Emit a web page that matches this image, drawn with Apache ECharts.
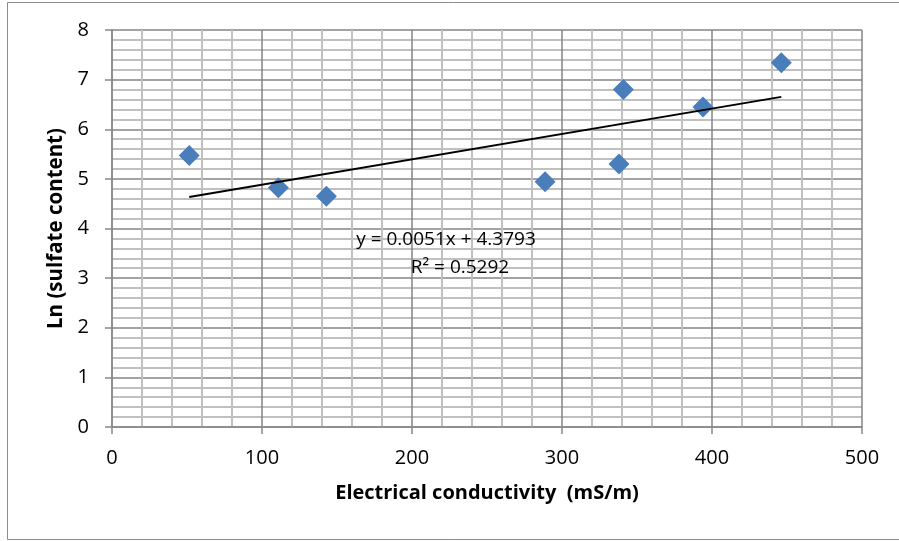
<!DOCTYPE html>
<html>
<head>
<meta charset="utf-8">
<script src="https://cdn.jsdelivr.net/npm/echarts@6/dist/echarts.min.js"></script>
<style>
html,body{margin:0;padding:0;background:#fff;}
#chart{width:899px;height:541px;}
</style>
</head>
<body>
<div id="chart"></div>
<script>
// Data
const conductivity = [51.5, 110.9, 142.9, 288.7, 338, 340.9, 394, 446.2];
const lnSulfate = [5.47, 4.82, 4.65, 4.94, 5.30, 6.80, 6.45, 7.34];
const equationLines = ['y = 0.0051x + 4.3793', 'R\u00B2 = 0.5292'];
const xAxisTitle = 'Electrical conductivity  (mS/m)';
const yAxisTitle = 'Ln (sulfate content)';

// least-squares trend line from the data
const n = conductivity.length;
const mx = conductivity.reduce((a, b) => a + b, 0) / n;
const my = lnSulfate.reduce((a, b) => a + b, 0) / n;
let sxy = 0, sxx = 0;
for (let i = 0; i < n; i++) {
  sxy += (conductivity[i] - mx) * (lnSulfate[i] - my);
  sxx += (conductivity[i] - mx) * (conductivity[i] - mx);
}
const slope = sxy / sxx;
const intercept = my - slope * mx;
const xMin = Math.min.apply(null, conductivity);
const xMax = Math.max.apply(null, conductivity);
const trend = [[xMin, intercept + slope * xMin], [xMax, intercept + slope * xMax]];

const FONT = 'Open Sans';
const chart = echarts.init(document.getElementById('chart'), null, {renderer: 'canvas'});
chart.setOption({
  animation: false,
  backgroundColor: '#fff',
  grid: {left: 112, top: 30, right: 37, bottom: 114, containLabel: false},
  xAxis: {
    type: 'value', min: 0, max: 500, interval: 100,
    name: xAxisTitle, nameLocation: 'middle', nameGap: 56,
    nameTextStyle: {fontFamily: FONT, fontWeight: 'bold', fontSize: 20, color: '#000'},
    axisLine: {show: true, lineStyle: {color: '#888', width: 1.5}},
    axisTick: {show: true, length: 7, lineStyle: {color: '#888', width: 1.5}},
    axisLabel: {fontFamily: FONT, fontSize: 20, color: '#000', margin: 21},
    splitLine: {show: true, lineStyle: {color: '#858585', width: 1.5}},
    minorTick: {show: false, splitNumber: 5},
    minorSplitLine: {show: true, lineStyle: {color: '#c0c0c0', width: 2}}
  },
  yAxis: {
    type: 'value', min: 0, max: 8, interval: 1,
    name: yAxisTitle, nameLocation: 'middle', nameGap: 44, nameRotate: 90,
    nameTextStyle: {fontFamily: FONT, fontWeight: 'bold', fontSize: 20.5, color: '#000'},
    axisLine: {show: true, lineStyle: {color: '#888', width: 1.5}},
    axisTick: {show: true, length: 7, lineStyle: {color: '#888', width: 1.5}},
    axisLabel: {fontFamily: FONT, fontSize: 20, color: '#000', margin: 23},
    splitLine: {show: true, lineStyle: {color: '#858585', width: 1.5}},
    minorTick: {show: false, splitNumber: 5},
    minorSplitLine: {show: true, lineStyle: {color: '#c0c0c0', width: 2}}
  },
  graphic: [
    {type: 'rect', silent: true, z: -10,
     shape: {x: 7.5, y: 2.5, width: 900, height: 537},
     style: {fill: 'none', stroke: '#8c8c8c', lineWidth: 1}},
    {type: 'text', silent: true, z: 10,
     style: {x: 446, y: 240, text: equationLines[0], textAlign: 'center', textVerticalAlign: 'middle',
             font: '19px "Open Sans"', fill: '#000'}},
    {type: 'text', silent: true, z: 10,
     style: {x: 460, y: 268, text: equationLines[1], textAlign: 'center', textVerticalAlign: 'middle',
             font: '19px "Open Sans"', fill: '#000'}}
  ],
  series: [
    {type: 'scatter', symbol: 'diamond', symbolSize: 21,
     itemStyle: {color: '#4a7ebb', opacity: 1},
     data: conductivity.map((x, i) => [x, lnSulfate[i]]), z: 3},
    {type: 'line', data: trend, showSymbol: false, symbol: 'none',
     lineStyle: {color: '#000', width: 2}, z: 4}
  ]
});
</script>
</body>
</html>
